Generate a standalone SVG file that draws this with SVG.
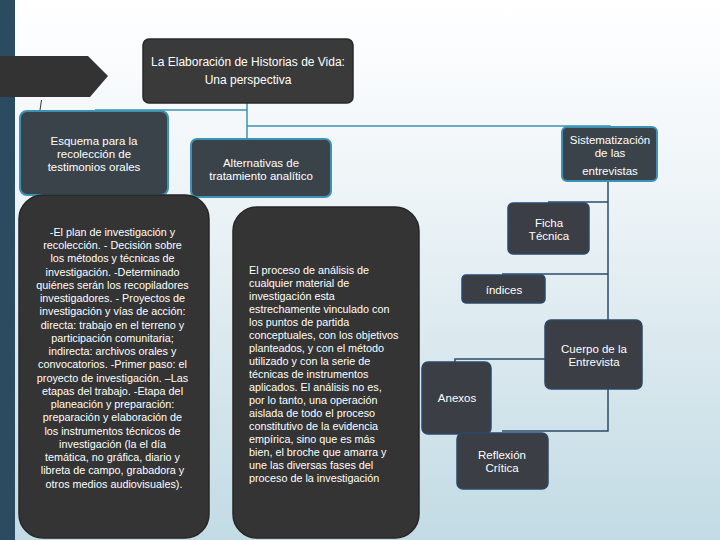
<svg xmlns="http://www.w3.org/2000/svg" width="720" height="540" viewBox="0 0 720 540">
<defs>
<linearGradient id="bg" x1="0" y1="0" x2="0" y2="1">
<stop offset="0" stop-color="#ffffff"/>
<stop offset="0.35" stop-color="#eef4f7"/>
<stop offset="1" stop-color="#c2dbe4"/>
</linearGradient>
<style>
text{font-family:"Liberation Sans",Arial,sans-serif;fill:#ffffff}
.t12{font-size:11.5px;text-anchor:middle}
.t11{font-size:10.8px}
.c{text-anchor:middle}
.lb{fill:#3a434a;stroke:#3d93b5;stroke-width:2}
.db{fill:#3b3e44;stroke:#2c4868;stroke-width:1.5}
.big{fill:#343434;stroke:#262626;stroke-width:1.5}
.teal{stroke:#3d93ad;stroke-width:1.5;fill:none}
.navy{stroke:#2d4c6a;stroke-width:1.5;fill:none}
</style>
</defs>
<rect width="720" height="540" fill="url(#bg)"/>
<rect x="0" y="0" width="15" height="540" fill="#2b4b60"/>
<g id="arrow"><polygon points="0,56 88,56 108,76 90,97 0,97" fill="#333333"/></g>
<line x1="40" y1="110" x2="41.5" y2="100" stroke="#333" stroke-width="1"/>
<g id="connectors">
<path class="teal" d="M247,103 V138 M247,126 H610 V128 M247,110 H95"/>
<path class="navy" d="M608,181 V320 M608,202 H548 M608,274 H502 M545,359 H455 V362 M608,389 V431 H502"/>
</g>
<g id="title">
<rect x="143" y="39" width="210" height="64" rx="6" fill="#3a3a3a" stroke="#2a2a2a" stroke-width="1.5"/>
<text class="t12" x="248" y="66" style="font-size:12px">La Elaboración de Historias de Vida:</text>
<text class="t12" x="248" y="84" style="font-size:12px">Una perspectiva</text>
</g>
<g id="esquema">
<rect class="lb" x="20" y="111" width="148" height="84" rx="7"/>
<text class="t12" x="94" y="145">Esquema para la</text>
<text class="t12" x="94" y="158">recolección de</text>
<text class="t12" x="94" y="171">testimonios orales</text>
</g>
<g id="alternativas">
<rect class="lb" x="191" y="139" width="140" height="58" rx="6"/>
<text class="t12" x="261" y="167">Alternativas de</text>
<text class="t12" x="261" y="180">tratamiento analítico</text>
</g>
<g id="sistematizacion">
<rect class="lb" x="562" y="127" width="95" height="54" rx="5"/>
<text class="t12" x="610" y="144">Sistematización</text>
<text class="t12" x="610" y="157">de las</text>
<text class="t12" x="610" y="175">entrevistas</text>
</g>
<g id="plan">
<rect class="big" x="19" y="195" width="190" height="343" rx="24"/>
<text class="t11 c" x="114">
<tspan x="114" y="236">-El plan de investigación y</tspan>
<tspan x="114" y="249">recolección. - Decisión sobre</tspan>
<tspan x="114" y="262">los métodos y técnicas de</tspan>
<tspan x="114" y="276">investigación. -Determinado</tspan>
<tspan x="114" y="289">quiénes serán los recopiladores</tspan>
<tspan x="114" y="302">investigadores. - Proyectos de</tspan>
<tspan x="114" y="315">investigación y vías de acción:</tspan>
<tspan x="114" y="329">directa: trabajo en el terreno y</tspan>
<tspan x="114" y="342">participación comunitaria;</tspan>
<tspan x="114" y="355">indirecta: archivos orales y</tspan>
<tspan x="114" y="368">convocatorios. -Primer paso: el</tspan>
<tspan x="114" y="382">proyecto de investigación. –Las</tspan>
<tspan x="114" y="395">etapas del trabajo. -Etapa del</tspan>
<tspan x="114" y="408">planeación y preparación:</tspan>
<tspan x="114" y="421">preparación y elaboración de</tspan>
<tspan x="114" y="435">los instrumentos técnicos de</tspan>
<tspan x="114" y="448">investigación (la el día</tspan>
<tspan x="114" y="461">temática, no gráfica, diario y</tspan>
<tspan x="114" y="474">libreta de campo, grabadora y</tspan>
<tspan x="114" y="488">otros medios audiovisuales).</tspan>
</text>
</g>
<g id="proceso">
<rect class="big" x="233" y="207" width="186" height="331" rx="24"/>
<text class="t11" x="249">
<tspan x="249" y="274">El proceso de análisis de</tspan>
<tspan x="249" y="287">cualquier material de</tspan>
<tspan x="249" y="300">investigación esta</tspan>
<tspan x="249" y="313">estrechamente vinculado con</tspan>
<tspan x="249" y="326">los puntos de partida</tspan>
<tspan x="249" y="339">conceptuales, con los objetivos</tspan>
<tspan x="249" y="352">planteados, y con el método</tspan>
<tspan x="249" y="365">utilizado y con la serie de</tspan>
<tspan x="249" y="378">técnicas de instrumentos</tspan>
<tspan x="249" y="391">aplicados. El análisis no es,</tspan>
<tspan x="249" y="404">por lo tanto, una operación</tspan>
<tspan x="249" y="417">aislada de todo el proceso</tspan>
<tspan x="249" y="430">constitutivo de la evidencia</tspan>
<tspan x="249" y="443">empírica, sino que es más</tspan>
<tspan x="249" y="456">bien, el broche que amarra y</tspan>
<tspan x="249" y="469">une las diversas fases del</tspan>
<tspan x="249" y="482">proceso de la investigación</tspan>
</text>
</g>
<g id="ficha">
<rect class="db" x="508" y="203" width="81" height="51" rx="5"/>
<text class="t12" x="549" y="227">Ficha</text>
<text class="t12" x="549" y="240">Técnica</text>
</g>
<g id="indices">
<rect class="db" x="462" y="275" width="83" height="28" rx="4"/>
<text class="t12" x="504" y="294">índices</text>
</g>
<g id="cuerpo">
<rect class="db" x="545" y="320" width="97" height="69" rx="6"/>
<text class="t12" x="594" y="353">Cuerpo de la</text>
<text class="t12" x="594" y="366">Entrevista</text>
</g>
<g id="anexos">
<rect class="db" x="422" y="362" width="69" height="72" rx="6"/>
<text class="t12" x="457" y="402">Anexos</text>
</g>
<g id="reflexion">
<rect class="db" x="457" y="433" width="91" height="56" rx="6"/>
<text class="t12" x="502" y="459">Reflexión</text>
<text class="t12" x="502" y="472">Crítica</text>
</g>
</svg>
